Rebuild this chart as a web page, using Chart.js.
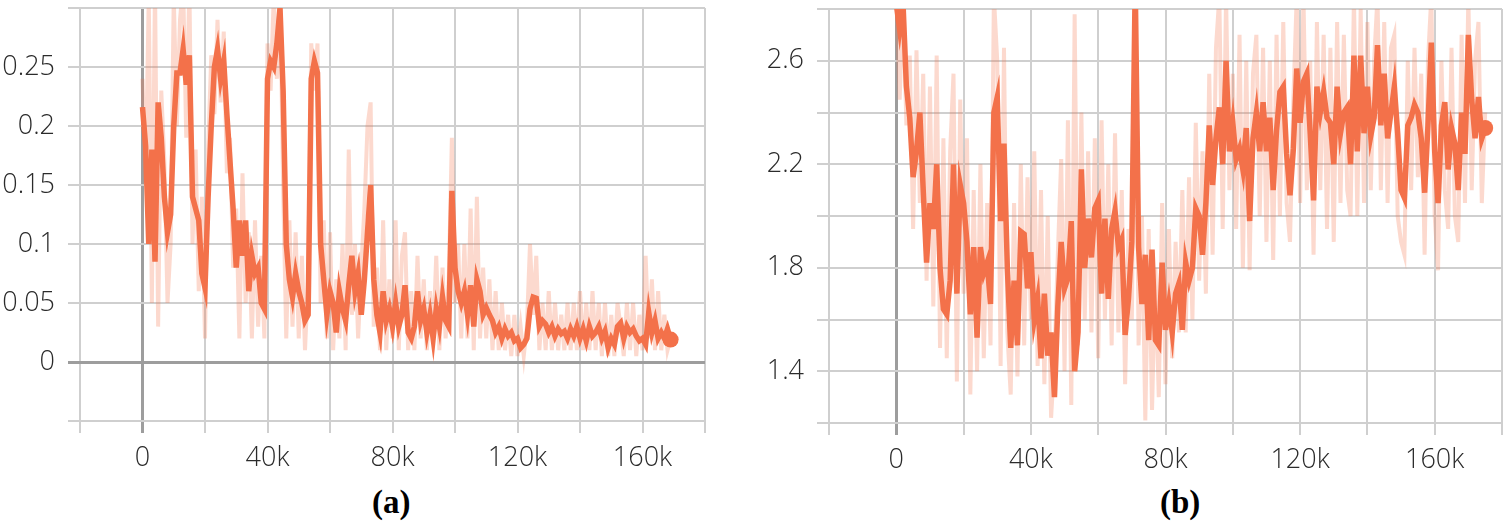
<!DOCTYPE html>
<html>
<head>
<meta charset="utf-8">
<script src="https://cdn.jsdelivr.net/npm/chart.js@4.4.1/dist/chart.umd.min.js"></script>
<style>
  body { margin: 0; background: #fff; width: 1510px; height: 531px; position: relative; overflow: hidden; }
  canvas { position: absolute; top: 0; }
  #chartA { left: 0; }
  #chartB { left: 740px; }
  .caption { position: absolute; top: 486px; font: bold 33px "Liberation Serif", "Times New Roman", serif; line-height: 33px; color: #000; }
</style>
</head>
<body>
<canvas id="chartA" width="720" height="480"></canvas>
<canvas id="chartB" width="770" height="480"></canvas>
<div class="caption" style="left:372px">(a)</div>
<div class="caption" style="left:1160px">(b)</div>
<script>
// one sample every 1k steps, starting at step 0
const stepSize = 1000;

// (a) smoothed + raw curve
const smoothA = [
  0.216, 0.183, 0.10, 0.18, 0.085, 0.22, 0.19, 0.14, 0.11, 0.125,
  0.20, 0.245, 0.245, 0.265, 0.235, 0.26, 0.14, 0.13, 0.12, 0.075,
  0.063, 0.14, 0.20, 0.25, 0.265, 0.24, 0.255, 0.21, 0.17, 0.13,
  0.08, 0.12, 0.09, 0.12, 0.06, 0.09, 0.075, 0.08, 0.05, 0.045,
  0.24, 0.255, 0.25, 0.27, 0.30, 0.23, 0.10, 0.07, 0.055, 0.075,
  0.06, 0.05, 0.035, 0.04, 0.24, 0.255, 0.245, 0.10, 0.07, 0.04,
  0.06, 0.05, 0.025, 0.06, 0.045, 0.035, 0.065, 0.09, 0.06, 0.075,
  0.04, 0.07, 0.11, 0.15, 0.07, 0.04, 0.025, 0.06, 0.035, 0.045,
  0.03, 0.05, 0.03, 0.04, 0.065, 0.025, 0.02, 0.03, 0.06, 0.035,
  0.045, 0.025, 0.04, 0.02, 0.045, 0.03, 0.055, 0.035, 0.03, 0.145,
  0.08, 0.06, 0.05, 0.06, 0.04, 0.065, 0.03, 0.07, 0.06, 0.04,
  0.046, 0.04, 0.035, 0.025, 0.03, 0.02, 0.028, 0.022, 0.025, 0.018,
  0.02, 0.012, 0.015, 0.02, 0.045, 0.055, 0.054, 0.03, 0.035, 0.032,
  0.025, 0.03, 0.022, 0.028, 0.024, 0.026, 0.02, 0.028, 0.022, 0.03,
  0.02, 0.028, 0.018, 0.03, 0.022, 0.025, 0.03, 0.02, 0.026, 0.012,
  0.02, 0.015, 0.03, 0.033, 0.02, 0.03, 0.025, 0.028, 0.022, 0.018,
  0.02, 0.015, 0.042, 0.025, 0.035, 0.02, 0.025, 0.02, 0.028, 0.019
];
const rawA = [
  0.24, 0.15, 0.31, 0.05, 0.32, 0.03, 0.23, 0.17, 0.05, 0.10,
  0.31, 0.20, 0.29, 0.32, 0.19, 0.32, 0.10, 0.18, 0.06, 0.14,
  0.02, 0.18, 0.26, 0.21, 0.29, 0.22, 0.28, 0.16, 0.19, 0.08,
  0.13, 0.02, 0.16, 0.05, 0.11, 0.02, 0.12, 0.03, 0.09, 0.02,
  0.27, 0.23, 0.31, 0.24, 0.32, 0.15, 0.02, 0.12, 0.03, 0.11,
  0.02, 0.09, 0.01, 0.07, 0.27, 0.23, 0.27, 0.05, 0.12, 0.02,
  0.11, 0.01, 0.07, 0.02, 0.10, 0.01, 0.18, 0.04, 0.10, 0.02,
  0.08, 0.13, 0.20, 0.22, 0.03, 0.08, 0.01, 0.12, 0.01, 0.07,
  0.02, 0.12, 0.01, 0.09, 0.11, 0.01, 0.06, 0.01, 0.09, 0.02,
  0.07, 0.01, 0.06, 0.02, 0.09, 0.01, 0.08, 0.02, 0.07, 0.19,
  0.05, 0.10, 0.02, 0.10, 0.02, 0.13, 0.01, 0.14, 0.02, 0.08,
  0.02, 0.07, 0.01, 0.06, 0.01, 0.05, 0.01, 0.04, 0.005, 0.04,
  0.005, 0.03, 0.005, 0.03, 0.10, 0.04, 0.09, 0.01, 0.05, 0.01,
  0.06, 0.01, 0.05, 0.01, 0.04, 0.01, 0.05, 0.01, 0.05, 0.01,
  0.06, 0.01, 0.05, 0.01, 0.06, 0.01, 0.05, 0.005, 0.05, 0.005,
  0.04, 0.005, 0.05, 0.03, 0.005, 0.05, 0.01, 0.05, 0.005, 0.04,
  0.01, 0.09, 0.02, 0.07, 0.01, 0.06, 0.01, 0.04, 0.01, 0.02
];

// (b) smoothed + raw curve
const smoothB = [
  2.82, 2.72, 2.82, 2.50, 2.38, 2.15, 2.25, 2.40, 2.10, 1.82,
  2.05, 1.95, 2.20, 1.80, 1.64, 1.62, 1.75, 2.20, 1.70, 2.12,
  2.05, 1.90, 1.62, 1.88, 1.53, 1.88, 1.78, 1.82, 1.66, 2.40,
  2.46, 1.98, 2.28, 1.80, 1.49, 1.75, 1.50, 1.94, 1.93, 1.72,
  1.86, 1.60, 1.68, 1.45, 1.70, 1.46, 1.55, 1.30, 1.65, 1.90,
  1.72, 1.76, 1.98, 1.40, 1.55, 2.18, 1.80, 1.99, 1.84, 2.03,
  2.06, 1.70, 1.99, 1.68, 1.95, 2.02, 1.88, 1.91, 1.54, 1.68,
  1.90, 2.90, 1.88, 1.66, 1.85, 1.52, 1.87, 1.52, 1.50, 1.82,
  1.56, 1.66, 1.55, 1.70, 1.74, 1.56, 1.82, 1.75, 1.80, 2.03,
  2.00, 1.85, 2.05, 2.35, 2.12, 2.30, 2.42, 2.20, 2.60, 2.25,
  2.36, 2.22, 2.26, 2.18, 2.34, 1.98, 2.30, 2.40, 2.25, 2.44,
  2.25, 2.38, 2.10, 2.33, 2.48, 2.50, 2.24, 2.08, 2.26, 2.57,
  2.36, 2.52, 2.55, 2.32, 2.06, 2.50, 2.40, 2.48, 2.38, 2.36,
  2.20, 2.50, 2.32, 2.40, 2.42, 2.20, 2.62, 2.25, 2.62, 2.32,
  2.50, 2.31, 2.38, 2.66, 2.35, 2.55, 2.30, 2.40, 2.50, 2.32,
  2.10, 2.07, 2.35, 2.38, 2.43, 2.40, 2.30, 2.09, 2.35, 2.67,
  2.25, 2.05, 2.35, 2.44, 2.18, 2.34, 2.28, 2.10, 2.40, 2.24,
  2.70, 2.45, 2.30, 2.46, 2.30, 2.34
];
const rawB = [
  2.85, 2.45, 2.85, 2.35, 2.62, 1.95, 2.64, 2.05, 2.55, 1.75,
  2.50, 1.65, 2.62, 1.49, 2.30, 1.45, 2.25, 2.55, 1.36, 2.45,
  1.70, 2.30, 1.31, 2.10, 1.40, 2.20, 1.45, 2.05, 1.50, 2.85,
  2.60, 1.42, 2.65, 1.55, 1.31, 2.05, 1.38, 2.20, 1.50, 2.15,
  1.60, 2.25, 1.42, 2.10, 1.35, 2.00, 1.22, 1.45, 1.85, 2.22,
  1.40, 2.37, 1.27, 2.78, 1.50, 2.40, 1.60, 2.25, 1.55, 2.30,
  1.45, 2.37, 1.60, 2.20, 1.50, 2.32, 1.55, 2.10, 1.35, 1.95,
  1.60, 2.90, 1.50, 2.00, 1.21, 1.95, 1.25, 1.80, 1.30, 2.05,
  1.35, 1.95, 1.45, 1.90, 1.55, 2.10, 1.55, 2.15, 1.60, 2.36,
  1.75, 2.25, 1.70, 2.55, 1.85, 2.65, 2.85, 1.95, 2.85, 2.10,
  2.55, 1.95, 2.70, 1.80, 2.60, 1.79, 2.55, 2.70, 2.00, 2.65,
  1.90, 2.60, 1.83, 2.70, 2.00, 2.75, 2.05, 1.90, 2.45, 2.85,
  2.05, 2.85, 2.10, 2.60, 1.85, 2.75, 2.10, 2.70, 1.95, 2.65,
  1.90, 2.75, 2.05, 2.70, 2.10, 2.00, 2.85, 2.00, 2.80, 2.05,
  2.75, 2.10, 2.60, 2.85, 2.10, 2.75, 2.05, 2.65, 2.70, 2.00,
  1.90, 1.85, 2.60, 2.10, 2.65, 2.15, 2.55, 1.85, 2.60, 2.85,
  2.00, 1.79, 2.60, 2.10, 1.95, 2.65, 2.00, 1.90, 2.70, 2.05,
  2.85, 2.10, 2.60, 2.75, 2.05, 2.40
];

// tick labels (grid lines sit every 20k / every step, labels only on these)
const xTickValues = [0, 40000, 80000, 120000, 160000];
const xTickLabels = ['0', '40k', '80k', '120k', '160k'];
const yTickValuesA = [0, 0.05, 0.1, 0.15, 0.2, 0.25];
const yTickLabelsA = ['0', '0.05', '0.1', '0.15', '0.2', '0.25'];
const yTickValuesB = [1.4, 1.8, 2.2, 2.6];
const yTickLabelsB = ['1.4', '1.8', '2.2', '2.6'];

const orange = '#f3714a';
const pink = 'rgba(243, 113, 74, 0.27)';
const gridColor = '#cfcfcf';
const zeroColor = '#9d9d9d';
const labelColor = '#2b2b2b';
const labelFont = { family: '"Open Sans", "Noto Sans", sans-serif', size: 27, weight: '300' };

function toPoints(values) {
  return values.map((y, i) => ({ x: i * stepSize, y: y }));
}

function lookup(value, values, labels) {
  const i = values.findIndex(v => Math.abs(v - value) < 1e-9);
  return i === -1 ? '' : labels[i];
}

function isZero(c) {
  return c.tick && Math.abs(c.tick.value) < 1e-9;
}

const gridOpts = {
  color: c => isZero(c) ? zeroColor : gridColor,
  lineWidth: c => isZero(c) ? 3 : 2,
  tickLength: 12
};

function makeChart(id, smooth, raw, cfg) {
  const ctx = document.getElementById(id).getContext('2d');
  return new Chart(ctx, {
    type: 'line',
    data: {
      datasets: [{
        data: toPoints(smooth),
        borderColor: orange,
        backgroundColor: orange,
        borderWidth: 5.5,
        pointRadius: c => c.dataIndex === smooth.length - 1 ? 8 : 0,
        pointBorderWidth: 0,
        tension: 0,
        clip: 0,
        order: 1
      }, {
        data: toPoints(raw),
        borderColor: pink,
        borderWidth: 4,
        pointRadius: 0,
        tension: 0,
        clip: 0,
        order: 2
      }]
    },
    options: {
      responsive: false,
      animation: false,
      devicePixelRatio: 1,
      events: [],
      layout: { padding: cfg.padding },
      plugins: { legend: { display: false }, tooltip: { enabled: false } },
      scales: {
        x: {
          type: 'linear',
          min: -20000,
          max: 180000,
          afterFit: s => {
            s.height = cfg.xAxisHeight;
            s.paddingLeft = 0;
            s.paddingRight = 0;
          },
          ticks: {
            stepSize: 20000,
            autoSkip: false,
            maxRotation: 0,
            padding: 9,
            color: labelColor,
            font: labelFont,
            callback: v => lookup(v, xTickValues, xTickLabels)
          },
          grid: gridOpts,
          border: { display: false }
        },
        y: {
          type: 'linear',
          min: cfg.yMin,
          max: cfg.yMax,
          afterFit: s => {
            s.width = cfg.yAxisWidth;
            s.paddingTop = 0;
            s.paddingBottom = 0;
          },
          ticks: {
            stepSize: cfg.yStep,
            autoSkip: false,
            padding: 13,
            color: labelColor,
            font: labelFont,
            callback: v => lookup(v, cfg.yValues, cfg.yLabels)
          },
          grid: gridOpts,
          border: { display: false }
        }
      }
    }
  });
}

makeChart('chartA', smoothA, rawA, {
  yMin: -0.05, yMax: 0.30, yStep: 0.05,
  yValues: yTickValuesA, yLabels: yTickLabelsA,
  yAxisWidth: 80, xAxisHeight: 59,
  padding: { top: 5, right: 15, bottom: 0, left: 0 }
});

makeChart('chartB', smoothB, rawB, {
  yMin: 1.2, yMax: 2.8, yStep: 0.2,
  yValues: yTickValuesB, yLabels: yTickLabelsB,
  yAxisWidth: 89, xAxisHeight: 57,
  padding: { top: 9, right: 8, bottom: 0, left: 0 }
});
</script>
</body>
</html>
